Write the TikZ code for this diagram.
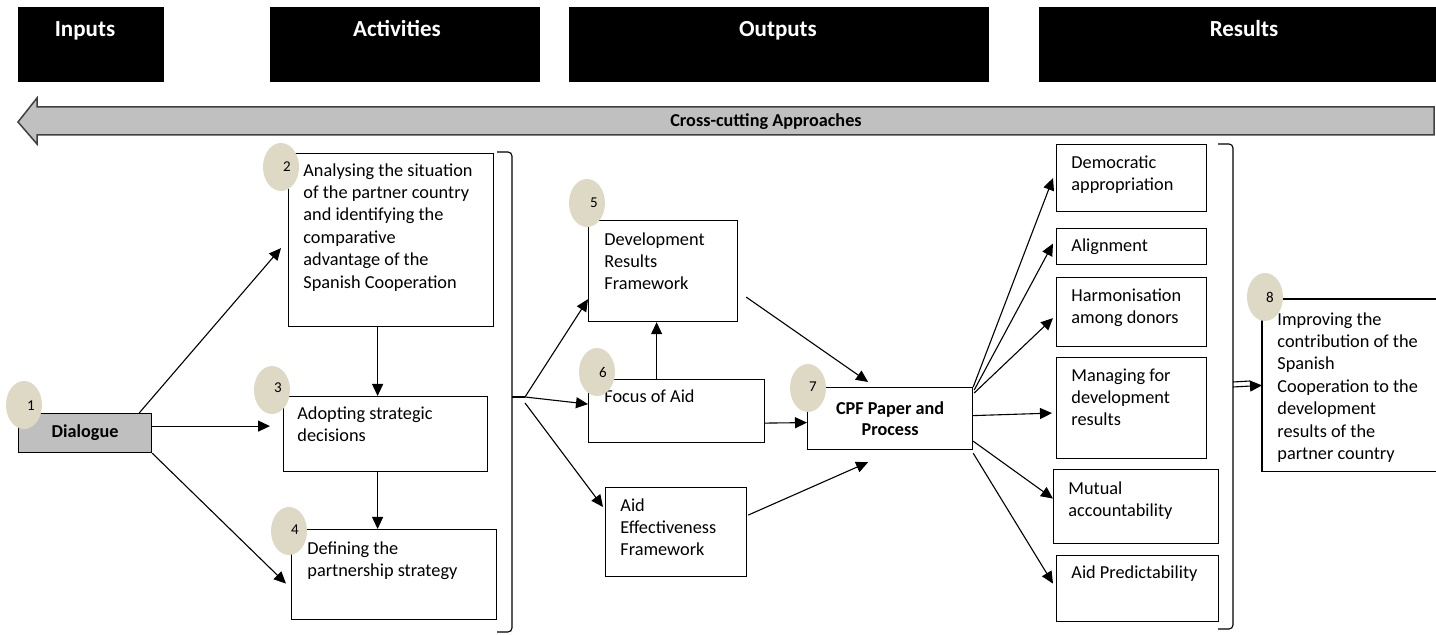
\documentclass[tikz,border=0pt]{standalone}
\usepackage{fontspec}
\setmainfont{Carlito}
\usetikzlibrary{calc,shapes.geometric,arrows.meta}
\definecolor{numfill}{HTML}{DDD9C4}
\definecolor{bandfill}{HTML}{C0C0C0}
\definecolor{dlgfill}{HTML}{BFBFBF}
\begin{document}
\begin{tikzpicture}[x=0.5pt,y=-0.5pt,
  hdr/.style={fill=black,draw=black,inner sep=0,anchor=north west},
  hdrtxt/.style={text=white,font=\fontsize{11.5}{14}\selectfont\bfseries,inner sep=0,anchor=base},
  box/.style={draw=black,line width=0.6pt,fill=white,inner sep=0,anchor=north west},
  txt/.style={inner sep=0,anchor=north west,align=left,font=\fontsize{9.15}{11.2}\selectfont},
  num/.style={ellipse,fill=numfill,minimum width=18pt,minimum height=24pt,inner sep=0},
  numtxt/.style={inner sep=0,font=\fontsize{7.5}{9}\selectfont},
  arr/.style={line width=0.55pt,-{Triangle[length=6pt,width=5.5pt]}},
  ln/.style={line width=0.55pt}]
\useasboundingbox (0,0) rectangle (1436,635);

% column headers
\node[hdr,minimum width=72.5pt,minimum height=37pt] (hin) at (18,7) {};
\node[hdr,minimum width=134.5pt,minimum height=37pt] (hact) at (270,7) {};
\node[hdr,minimum width=209.5pt,minimum height=37pt] (hout) at (569,7) {};
\node[hdr,minimum width=198.5pt,minimum height=37pt] (hres) at (1039,7) {};
\node[hdrtxt] (hint) at (85,37) {Inputs};
\node[hdrtxt] (hactt) at (397,37) {Activities};
\node[hdrtxt] (houtt) at (778,37) {Outputs};
\node[hdrtxt] (hrest) at (1244,37) {Results};

% cross-cutting band (left-pointing block arrow)
\draw[fill=bandfill,draw=black!75,line width=0.75pt]
  (1434,107) -- (37,107) -- (37,98) -- (18,122) -- (37,144) -- (37,135) -- (1434,135) -- cycle;
\node[inner sep=0,font=\fontsize{9.1}{11}\selectfont\bfseries] (ccut) at (766,122) {Cross-cutting Approaches};

% boxes
\node[box,fill=dlgfill,minimum width=66.5pt,minimum height=19.5pt,font=\fontsize{9.1}{11}\selectfont\bfseries] (dlg) at (18,413) {Dialogue};
\node[box,minimum width=102.5pt,minimum height=86.5pt] (n2) at (288,153) {};
\node[box,minimum width=102pt,minimum height=37.5pt] (n3) at (283,396) {};
\node[box,minimum width=102.5pt,minimum height=45pt] (n4) at (291,529) {};
\node[box,minimum width=74.5pt,minimum height=50.5pt] (n5) at (588,220) {};
\node[box,minimum width=88pt,minimum height=31.5pt] (n6) at (588,379) {};
\node[box,minimum width=70.5pt,minimum height=44.5pt] (aid) at (605,487) {};
\node[box,minimum width=82.5pt,minimum height=31pt,align=center,
      font=\fontsize{9.1}{10.5}\selectfont\bfseries] (cpf) at (807,387) {CPF Paper and\\Process};
\node[box,minimum width=75pt,minimum height=33.5pt] (dem) at (1056,144) {};
\node[box,minimum width=75pt,minimum height=18pt] (aln) at (1056,228) {};
\node[box,minimum width=75pt,minimum height=34.5pt] (hrm) at (1056,277) {};
\node[box,minimum width=75pt,minimum height=50.5pt] (mfd) at (1056,357) {};
\node[box,minimum width=82.5pt,minimum height=37pt] (mut) at (1053,469) {};
\node[box,minimum width=81pt,minimum height=33pt] (apr) at (1056,555) {};
\node[inner sep=0,anchor=north west,minimum width=87pt,minimum height=86pt] (b8) at (1262,299) {};
\draw[line width=0.6pt] (b8.north east) -- (b8.north west) -- (b8.south west) -- (b8.south east);

% brackets
\draw[ln] (497,152) -- (508,152) to[out=0,in=90] (512,156) -- (512,628) to[out=-90,in=0] (508,632) -- (497,632);
\coordinate (bt1) at (525,397);
\draw[ln] (512,397) -- (bt1);
\draw[ln] (1218,144) -- (1229,144) to[out=0,in=90] (1233,148) -- (1233,625) to[out=-90,in=0] (1229,629) -- (1218,629);
\coordinate (bt2) at (1233,387);
\draw[ln] (1233,382) -- (1250,381);
\draw[arr] (bt2) -- (b8.west);

% activity connectors
\draw[arr] ($(dlg.north east)+(-13,0)$) -- ($(n2.west)+(-7,8)$);
\draw[arr] ($(dlg.east)+(0,-7)$) -- ($(n3.west)+(-13,-8)$);
\draw[arr] (dlg.south east) -- ($(n4.west)+(-5,9)$);
\draw[arr] ($(n2.south)+(-13.5,0)$) -- ($(n3.north)+(-8,0)$);
\draw[arr] ($(n3.south)+(-8,0)$) -- ($(n4.north)+(-16.5,0)$);

% output connectors
\draw[arr] (bt1) -- ($(n5.south west)+(0,-23)$);
\draw[arr] (bt1) -- ($(n6.west)+(0,-7)$);
\draw[arr] ($(bt1)+(0,6)$) -- ($(aid.north west)+(-2,20)$);
\draw[arr] ($(n6.north)+(-20,0)$) -- ($(n5.south)+(-6.5,0)$);
\draw[arr] ($(n5.east)+(8,26)$) -- ($(cpf.north)+(-22,-5)$);
\draw[arr] ($(n6.east)+(0,12)$) -- ($(cpf.west)+(0,4)$);
\draw[arr] ($(aid.east)+(1,-17)$) -- ($(cpf.south)+(-22,12)$);

% result connectors
\draw[arr] (cpf.north east) -- ($(dem.west)+(-3,0)$);
\draw[arr] ($(cpf.north east)+(1,3)$) -- ($(aln.west)+(-3,-3)$);
\draw[arr] ($(cpf.north east)+(1,6)$) -- ($(hrm.west)+(-3,6)$);
\draw[arr] ($(cpf.east)+(0,-3)$) -- ($(mfd.west)+(-4,5)$);
\draw[arr] ($(cpf.south east)+(0,-9)$) -- ($(mut.west)+(0,-8)$);
\draw[arr] ($(cpf.south east)+(0,3)$) -- ($(apr.west)+(-3,-5)$);

% box texts
\node[txt] (t2) at (303,160) {\strut Analysing the situation\\of the partner country\\and identifying the\\comparative\\advantage of the\\Spanish Cooperation};
\node[txt] (t3) at (297,403) {\strut Adopting strategic\\decisions};
\node[txt] (t4) at (307,538) {\strut Defining the\\partnership strategy};
\node[txt] (t5) at (604,229) {\strut Development\\Results\\Framework};
\node[txt] (t6) at (604,386) {\strut Focus of Aid};
\node[txt] (taid) at (620,495) {\strut Aid\\Effectiveness\\Framework};
\node[txt] (tdem) at (1071,152) {\strut Democratic\\appropriation};
\node[txt] (taln) at (1071,235) {\strut Alignment};
\node[txt] (thrm) at (1071,285) {\strut Harmonisation\\among donors};
\node[txt] (tmfd) at (1071,365) {\strut Managing for\\development\\results};
\node[txt] (tmut) at (1068,478) {\strut Mutual\\accountability};
\node[txt] (tapr) at (1071,562) {\strut Aid Predictability};
\node[txt] (t8) at (1277,309) {\strut Improving the\\contribution of the\\Spanish\\Cooperation to the\\development\\results of the\\partner country};

% numbered markers
\node[num] (c1) at (24,405) {};
\node[num] (c2) at (281,167) {};
\node[num] (c3) at (272,390) {};
\node[num] (c4) at (289,531) {};
\node[num] (c5) at (587,203) {};
\node[num] (c6) at (597,372) {};
\node[num] (c7) at (808,388) {};
\node[num] (c8) at (1265,297) {};
\node[numtxt] (c1n) at (31,406) {1};
\node[numtxt] (c2n) at (287,167) {2};
\node[numtxt] (c3n) at (278,388) {3};
\node[numtxt] (c4n) at (295,530) {4};
\node[numtxt] (c5n) at (594,203) {5};
\node[numtxt] (c6n) at (603,372) {6};
\node[numtxt] (c7n) at (813,387) {7};
\node[numtxt] (c8n) at (1270,297) {8};
\end{tikzpicture}
\end{document}
